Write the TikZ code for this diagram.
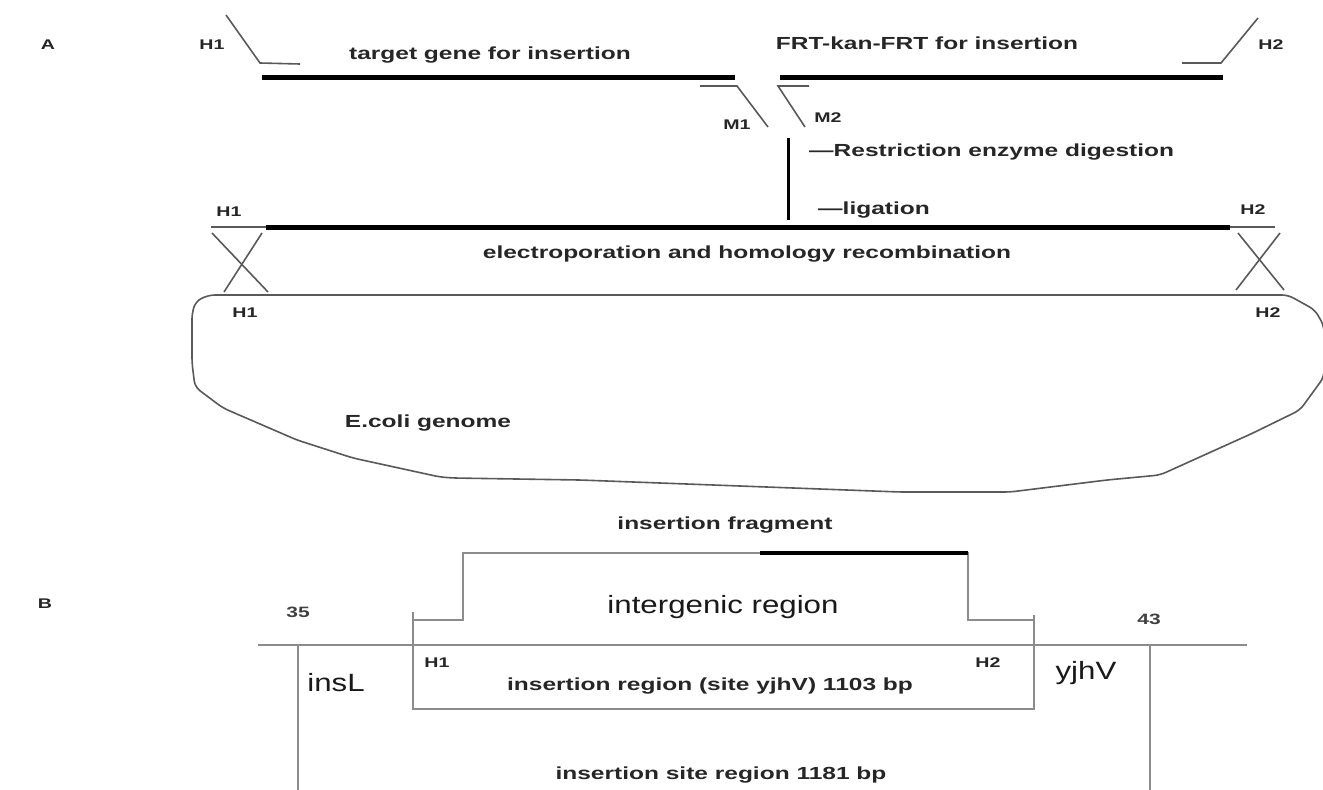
\documentclass[tikz,border=0pt]{standalone}
\usepackage{fontspec}
\setmainfont{Liberation Sans}
\newfontfamily\wfont{Liberation Sans}[FakeStretch=1.4]
\newfontfamily\rfont{Liberation Sans}[FakeStretch=1.25]
\begin{document}
\begin{tikzpicture}[x=1pt,y=-1pt,
  lbl/.style={font=\wfont\bfseries\fontsize{17.5}{20}\selectfont, text=black!85, inner sep=0pt},
  hl/.style={font=\wfont\bfseries\fontsize{14}{16}\selectfont, text=black!85, inner sep=0pt},
  num/.style={font=\wfont\bfseries\fontsize{15}{17}\selectfont, text=black!75, inner sep=0pt},
  reg/.style={font=\rfont\fontsize{25}{28}\selectfont, text=black!90, inner sep=0pt},
  dna/.style={line width=5pt, black},
  thinl/.style={line width=1.6pt, black!65},
  vline/.style={line width=3pt, black},
  gline/.style={line width=2.5pt, black!45},
  frag/.style={line width=4.5pt, black}]
\useasboundingbox (0,0) rectangle (1323,790);
\fill[white] (0,0) rectangle (1323,790);

% ---------- panel labels
\node[hl] (A) at (48,45) {A};
\node[hl] (B) at (45,604) {B};

% ---------- top row
\node[hl] (h1a) at (212,45) {H1};
\node[lbl] (tg) at (490,55) {target gene for insertion};
\node[lbl] (frt) at (927,43) {FRT-kan-FRT for insertion};
\node[hl] (h2a) at (1271,45) {H2};
\coordinate (l1) at (262,77); \coordinate (l2) at (735,77);
\coordinate (r1) at (780,77); \coordinate (r2) at (1223,77);
\draw[thinl] (226,15) -- (260,63) -- (300,64);
\draw[dna] (l1) -- (l2);
\draw[dna] (r1) -- (r2);
\draw[thinl] (1258,18) -- (1221,63) -- (1182,63);
\draw[thinl] (700,86) -- (737,86) -- (768,127);
\draw[thinl] (809,86) -- (778,86) -- (805,127);
\node[hl] (m1) at (737,125) {M1};
\node[hl] (m2) at (828,118) {M2};

% ---------- digestion / ligation
\coordinate (v1) at (788,138); \coordinate (v2) at (788,220);
\draw[vline] (v1) -- (v2);
\node[lbl, anchor=west] (dig) at (809,152) {—Restriction enzyme digestion};
\node[lbl, anchor=west] (lig) at (818,210) {—ligation};

% ---------- ligated fragment
\node[hl] (h1b) at (229,212) {H1};
\node[hl] (h2b) at (1253,210) {H2};
\coordinate (p1) at (211,227); \coordinate (p2) at (266,227);
\coordinate (p3) at (1230,227); \coordinate (p4) at (1275,227);
\draw[thinl] (p1) -- (p2);
\draw[dna] (p2) -- (p3);
\draw[thinl] (p3) -- (p4);
\draw[thinl] (212,233) -- (268,292);
\draw[thinl] (262,233) -- (224,292);
\draw[thinl] (1238,233) -- (1284,290);
\draw[thinl] (1280,233) -- (1236,290);
\node[lbl] (elec) at (747,254) {electroporation and homology recombination};

% ---------- genome
\draw[thinl, rounded corners=6pt]
  (209,295) -- (1288,295) -- (1315,310) -- (1324,326) -- (1324,377)
  -- (1300,410) -- (1253,433) -- (1160,475) -- (1107,480) -- (1010,492)
  -- (900,492) -- (580,480) -- (453,478) -- (440,477) -- (353,458)
  -- (297,440) -- (223,408) -- (195,387) -- (192,363) -- (192,313)
  -- (196,301) -- cycle;
\node[hl] (h1c) at (245,313) {H1};
\node[hl] (h2c) at (1268,313) {H2};
\node[lbl] (eco) at (428,423) {E.coli genome};

% ---------- panel B
\node[lbl] (ifrag) at (725,525) {insertion fragment};
\draw[gline] (413,620) -- (463,620) -- (463,553) -- (968,553) -- (968,620) -- (1034,620);
\draw[frag] (760,553) -- (968,553);
\node[reg] (ig) at (723,607) {intergenic region};
\draw[gline] (258,645) -- (1247,645);
\draw[gline] (413,612) -- (413,709) -- (1034,709) -- (1034,615);
\draw[gline] (298,645) -- (298,795);
\draw[gline] (1150,645) -- (1150,795);
\node[num] (n35) at (298,612) {35};
\node[num] (n43) at (1149,619) {43};
\node[reg] (insl) at (336,683) {insL};
\node[reg] (yjhv) at (1086,673) {yjhV};
\node[hl] (h1d) at (437,663) {H1};
\node[hl] (h2d) at (988,663) {H2};
\node[lbl] (ireg) at (710,686) {insertion region (site yjhV) 1103 bp};
\node[lbl] (isite) at (721,775) {insertion site region 1181 bp};
\end{tikzpicture}
\end{document}
